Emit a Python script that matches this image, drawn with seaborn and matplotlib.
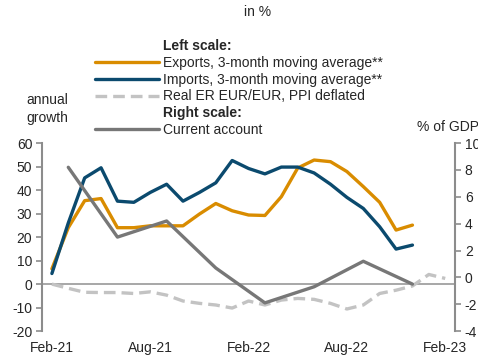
import pandas as pd
import seaborn as sns
import matplotlib.pyplot as plt
from matplotlib.lines import Line2D

# monthly index: 0 = Feb-21 ... 24 = Feb-23
tick_pos = [0, 6, 12, 18, 24]
tick_labels = ['Feb-21', 'Aug-21', 'Feb-22', 'Aug-22', 'Feb-23']

exports = [6.5, 24, 35.5, 36.4, 24, 24, 24.8, 24.8, 24.8, 29.8, 34.3, 31.2,
           29.4, 29.2, 37.2, 49.4, 52.8, 52.1, 47.9, 41.5, 34.8, 23, 25.1]
imports = [4.5, 26, 45.2, 49.5, 35.3, 34.8, 39, 42.5, 35.3, 39, 43.1, 52.6,
           49.2, 46.9, 49.8, 49.8, 47.3, 42.5, 36.9, 32.2, 24.4, 14.9, 16.6]
real_er = [0, -1.8, -3.5, -3.6, -3.6, -4.0, -3.3, -4.7, -7.2, -8.2, -8.9, -10.2,
           -7.2, -8.9, -6.8, -6.1, -6.5, -8.2, -10.6, -8.9, -4.0, -2.6, -0.8, 4.1, 2.4]
ca_months = [1, 4, 7, 10, 13, 16, 19, 22]
current_account = [8.2, 3.0, 4.2, 0.7, -1.9, -0.7, 1.2, -0.5]

trade = pd.DataFrame({'m': range(len(exports)), 'exports': exports, 'imports': imports})
er = pd.DataFrame({'m': range(len(real_er)), 'er': real_er})
ca = pd.DataFrame({'m': ca_months, 'ca': current_account})

c_exp = '#D98C00'
c_imp = '#0B4A6E'
c_er = '#C3C3C3'
c_ca = '#777777'
c_axis = '#8C8C8C'

sns.set_style('white')
plt.rcParams['font.family'] = ['Liberation Sans', 'DejaVu Sans']
plt.rcParams['font.size'] = 10
plt.rcParams['axes.unicode_minus'] = False

fig = plt.figure(figsize=(4.78, 3.56), dpi=100)
ax = fig.add_axes([0.088, 0.070, 0.864, 0.528])
ax2 = ax.twinx()

ax.axhline(0, color='#A0A0A0', lw=1.3, zorder=1)
sns.lineplot(data=er, x='m', y='er', ax=ax, color=c_er, lw=2.4, linestyle=(0, (3.5, 1.8)), zorder=2)
sns.lineplot(data=trade, x='m', y='exports', ax=ax, color=c_exp, lw=2.4, zorder=3)
sns.lineplot(data=trade, x='m', y='imports', ax=ax, color=c_imp, lw=2.4, zorder=4)
sns.lineplot(data=ca, x='m', y='ca', ax=ax2, color=c_ca, lw=2.4, zorder=5)

ax.set_xlim(-0.6, 24.6)
ax.set_ylim(-20, 60)
ax.set_yticks(range(-20, 61, 10))
ax2.set_ylim(-4, 10)
ax2.set_yticks(range(-4, 11, 2))
ax.set_xticks(tick_pos)
ax.set_xticklabels(tick_labels)
ax.set_xlabel('')
ax.set_ylabel('')
ax2.set_ylabel('')

for a in (ax, ax2):
    a.spines['top'].set_visible(False)
    a.spines['bottom'].set_visible(False)
    a.spines['left'].set_color(c_axis)
    a.spines['right'].set_color(c_axis)
    a.spines['left'].set_linewidth(1.5)
    a.spines['right'].set_linewidth(1.5)
ax.spines['right'].set_visible(False)
ax2.spines['left'].set_visible(False)
ax.tick_params(axis='y', direction='out', length=4, width=1.2, color=c_axis, pad=3, left=True)
ax2.tick_params(axis='y', direction='out', length=4, width=1.2, color=c_axis, pad=3, right=True)
ax.tick_params(axis='x', length=0, pad=7)

handles = [Line2D([], [], color='none'),
           Line2D([], [], color=c_exp, lw=2.4),
           Line2D([], [], color=c_imp, lw=2.4),
           Line2D([], [], color=c_er, lw=2.4, linestyle=(0, (3.5, 1.8))),
           Line2D([], [], color='none'),
           Line2D([], [], color=c_ca, lw=2.4)]
labels = ['Left scale:', 'Exports, 3-month moving average**', 'Imports, 3-month moving average**',
          'Real ER EUR/EUR, PPI deflated', 'Right scale:', 'Current account']
leg = fig.legend(handles, labels, loc='upper left', bbox_to_anchor=(0.199, 0.890),
                 frameon=False, handlelength=4.6, handletextpad=0.3, labelspacing=0.2,
                 borderpad=0, borderaxespad=0, fontsize=10)
for i in (0, 4):
    leg.get_texts()[i].set_fontweight('bold')

fig.text(0.538, 0.966, 'in %', ha='center', va='center')
fig.text(0.100, 0.694, 'annual\ngrowth', ha='center', va='center', linespacing=1.35)
fig.text(0.872, 0.643, '% of GDP', ha='left', va='center')

fig.savefig('out.png', dpi=100)
